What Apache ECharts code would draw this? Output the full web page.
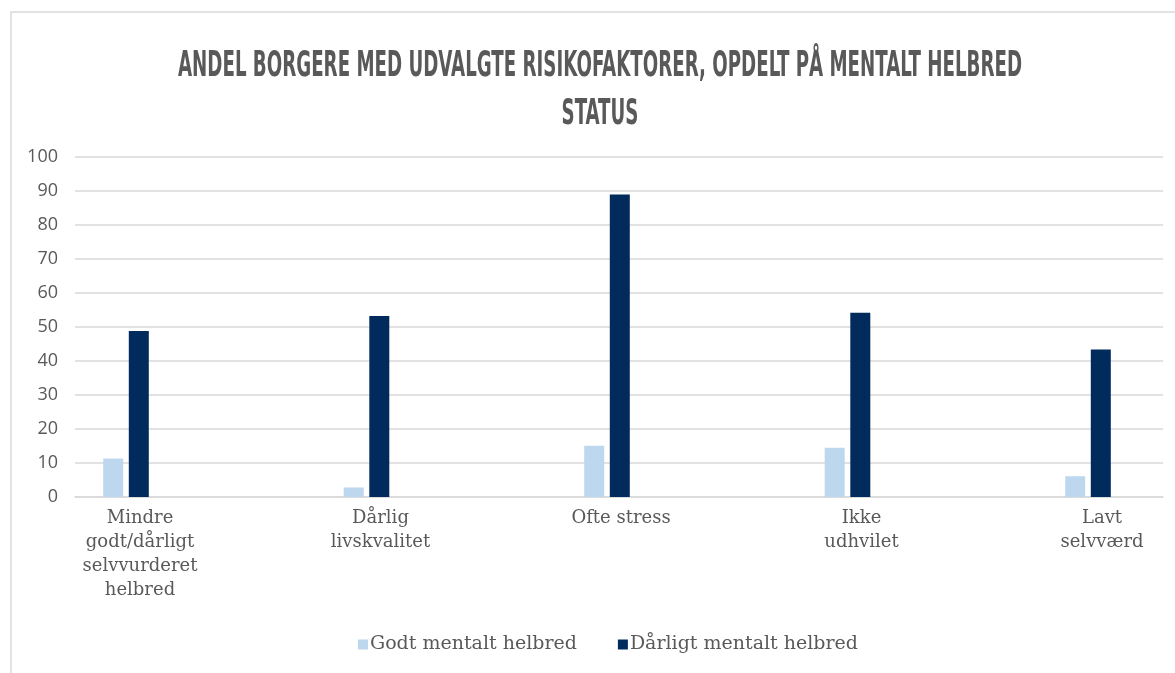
<!DOCTYPE html>
<html>
<head>
<meta charset="utf-8">
<script src="https://cdn.jsdelivr.net/npm/echarts@6/dist/echarts.min.js"></script>
<style>
html,body{margin:0;padding:0;background:#fff;}
#chart{width:1175px;height:673px;}
</style>
</head>
<body>
<div id="chart"></div>
<script>
const titleLines = ['ANDEL BORGERE MED UDVALGTE RISIKOFAKTORER, OPDELT PÅ MENTALT HELBRED', 'STATUS'];
const categories = ['Mindre\ngodt/dårligt\nselvvurderet\nhelbred', 'Dårlig\nlivskvalitet', 'Ofte stress', 'Ikke\nudhvilet', 'Lavt\nselvværd'];
const seriesNames = ['Godt mentalt helbred', 'Dårligt mentalt helbred'];
const godt = [11.3, 2.8, 15.1, 14.5, 6.1];
const daarligt = [48.8, 53.2, 89.0, 54.2, 43.4];
const yMin = 0, yMax = 100, yStep = 10;

const titleFont = 'bold 35px "DejaVu Sans Condensed"';
const cv = document.createElement('canvas').getContext('2d');
cv.font = titleFont;
const titleW = cv.measureText(titleLines[0]).width;
const sx = 844 / titleW;

const serif = '"DejaVu Serif"';
const gray = '#595959';

const chart = echarts.init(document.getElementById('chart'));
chart.setOption({
  animation: false,
  backgroundColor: '#fff',
  graphic: [
    {type: 'rect', z: -10, shape: {x: 11, y: 12, width: 1200, height: 700},
     style: {fill: 'none', stroke: '#d9d9d9', lineWidth: 1.5}},
    {type: 'text', x: 600, y: 67, scaleX: sx,
     style: {text: titleLines[0], font: titleFont, fill: gray, align: 'center', verticalAlign: 'middle'}},
    {type: 'text', x: 600, y: 115, scaleX: sx,
     style: {text: titleLines[1], font: titleFont, fill: gray, align: 'center', verticalAlign: 'middle'}}
  ],
  legend: {
    left: 353, top: 630,
    itemWidth: 10, itemHeight: 10, itemGap: 41,
    icon: 'rect',
    textStyle: {fontFamily: serif, fontSize: 19, color: gray, padding: [0, 0, 0, -3]},
    data: seriesNames
  },
  grid: [
    {left: 75, right: 12, top: 157, bottom: 176},
    {left: 126, right: 87, top: 157, bottom: 176}
  ],
  xAxis: [
    {type: 'category', gridIndex: 0, data: [''],
     axisLine: {show: true, lineStyle: {color: '#d9d9d9', width: 1.5}},
     axisTick: {show: false}, axisLabel: {show: false}},
    {type: 'category', gridIndex: 1, data: categories, boundaryGap: false,
     axisLine: {show: false}, axisTick: {show: false},
     axisLabel: {interval: 0, fontFamily: serif, fontSize: 18, color: gray, lineHeight: 24,
                 margin: 9, padding: [0, 0, 0, 28]}}
  ],
  yAxis: [
    {type: 'value', gridIndex: 0, min: yMin, max: yMax, interval: yStep,
     axisLine: {show: false}, axisTick: {show: false},
     axisLabel: {fontFamily: '"Open Sans"', fontSize: 18, color: gray, margin: 17},
     splitLine: {lineStyle: {color: '#d9d9d9', width: 1.5}}},
    {type: 'value', gridIndex: 1, min: yMin, max: yMax, interval: yStep, show: false}
  ],
  series: [
    {name: seriesNames[0], type: 'bar', xAxisIndex: 1, yAxisIndex: 1, data: godt,
     barWidth: 20, barGap: '28%', clip: false, itemStyle: {color: '#BDD7EE'}},
    {name: seriesNames[1], type: 'bar', xAxisIndex: 1, yAxisIndex: 1, data: daarligt,
     barWidth: 20, barGap: '28%', clip: false, itemStyle: {color: '#002B5C'}}
  ]
});
</script>
</body>
</html>
